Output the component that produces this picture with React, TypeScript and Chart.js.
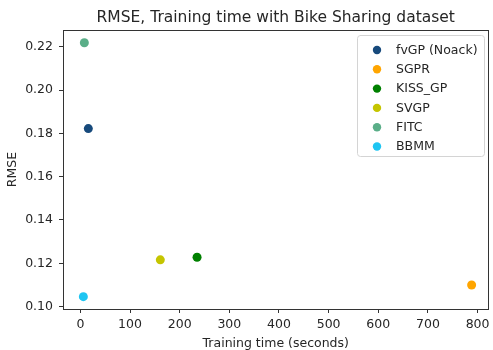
import { useEffect, useRef } from 'react';
import { Chart, registerables } from 'chart.js';

Chart.register(...registerables);

const methods = ['fvGP (Noack)', 'SGPR', 'KISS_GP', 'SVGP', 'FITC', 'BBMM'];
const trainingTimes = [16, 788, 235, 161, 8, 6];
const rmseValues = [0.1822, 0.11, 0.1228, 0.1216, 0.2218, 0.1046];
const pointColors = ['#174a7c', '#ffa500', '#008000', '#c5c500', '#5aae88', '#1ec5f2'];
const xTickValues = [0, 100, 200, 300, 400, 500, 600, 700, 800];
const yTickValues = [0.1, 0.12, 0.14, 0.16, 0.18, 0.2, 0.22];
const chartTitle = 'RMSE, Training time with Bike Sharing dataset';
const xAxisTitle = 'Training time (seconds)';
const yAxisTitle = 'RMSE';

const FONT = "'DejaVu Sans', sans-serif";
const TEXT = '#262626';
const AXIS = '#333333';

const frameAndLegend = {
  id: 'frameAndLegend',
  afterDraw(chart: any) {
    const { ctx, chartArea: a } = chart;
    ctx.save();
    ctx.strokeStyle = AXIS;
    ctx.lineWidth = 1;
    ctx.strokeRect(Math.round(a.left) + 0.5, Math.round(a.top) + 0.5, Math.round(a.width) - 1, Math.round(a.height));

    // legend
    ctx.font = `12.5px ${FONT}`;
    const rows = chart.data.datasets.map((d: any) => ({ label: d.label, color: d.backgroundColor }));
    const maxText = Math.max(...rows.map((r: any) => ctx.measureText(r.label).width));
    const rowH = 19.3;
    const w = 39 + maxText + 6;
    const h = 24 + rowH * (rows.length - 1) + 0.5;
    const right = Math.round(a.right - 5);
    const top = Math.round(a.top + 5);
    const left = Math.round(right - w);
    const r = 3;
    ctx.beginPath();
    ctx.moveTo(left + r, top + 0.5);
    ctx.arcTo(right + 0.5, top + 0.5, right + 0.5, top + h, r);
    ctx.arcTo(right + 0.5, top + h + 0.5, left, top + h + 0.5, r);
    ctx.arcTo(left + 0.5, top + h + 0.5, left + 0.5, top, r);
    ctx.arcTo(left + 0.5, top + 0.5, right, top + 0.5, r);
    ctx.closePath();
    ctx.fillStyle = 'rgba(255,255,255,0.8)';
    ctx.fill();
    ctx.strokeStyle = '#d4d4d4';
    ctx.stroke();
    ctx.textBaseline = 'middle';
    ctx.textAlign = 'left';
    rows.forEach((row: any, i: number) => {
      const cy = top + 15 + i * rowH;
      ctx.beginPath();
      ctx.arc(left + 20, cy, 4.2, 0, Math.PI * 2);
      ctx.fillStyle = row.color;
      ctx.fill();
      ctx.fillStyle = TEXT;
      ctx.fillText(row.label, left + 39, cy + 0.5);
    });
    ctx.restore();
  },
};

export default function App() {
  const ref = useRef<HTMLCanvasElement | null>(null);
  useEffect(() => {
    if (!ref.current) return;
    const chart = new Chart(ref.current, {
      type: 'scatter',
      data: {
        datasets: methods.map((m, i) => ({
          label: m,
          data: [{ x: trainingTimes[i], y: rmseValues[i] }],
          backgroundColor: pointColors[i],
          borderColor: pointColors[i],
          borderWidth: 0,
          pointRadius: 4.5,
          pointHoverRadius: 4.5,
        })),
      },
      options: {
        responsive: false,
        animation: false,
        events: [],
        layout: { padding: { top: 0, right: 1, left: 0, bottom: 0 } },
        plugins: {
          legend: { display: false },
          tooltip: { enabled: false },
          title: {
            display: true,
            text: chartTitle,
            fullSize: false,
            color: TEXT,
            font: { family: FONT, size: 15.5, weight: 'normal', lineHeight: 1.2 },
            padding: { top: 9, bottom: 2.4 },
          },
        },
        scales: {
          x: {
            type: 'linear',
            min: -35,
            max: 822,
            afterBuildTicks: (s: any) => {
              s.ticks = xTickValues.map((v) => ({ value: v }));
            },
            afterFit: (s: any) => {
              s.height = 41;
              s.paddingLeft = 0;
              s.paddingRight = 0;
            },
            ticks: {
              color: TEXT,
              font: { family: FONT, size: 12.5 },
              padding: 4,
              maxRotation: 0,
              autoSkip: false,
              callback: (v: any) => String(v),
            },
            grid: { drawOnChartArea: false, drawTicks: true, tickLength: 4, tickColor: AXIS },
            border: { display: false },
            title: {
              display: true,
              text: xAxisTitle,
              color: TEXT,
              font: { family: FONT, size: 12.5, lineHeight: 1 },
              padding: { top: 0, bottom: 0 },
            },
          },
          y: {
            type: 'linear',
            min: 0.0989,
            max: 0.2277,
            afterBuildTicks: (s: any) => {
              s.ticks = yTickValues.map((v) => ({ value: v }));
            },
            afterFit: (s: any) => {
              s.width = 63;
              s.paddingTop = 0;
              s.paddingBottom = 0;
            },
            ticks: {
              color: TEXT,
              font: { family: FONT, size: 12.5 },
              padding: 6,
              autoSkip: false,
              callback: (v: any) => Number(v).toFixed(2),
            },
            grid: { drawOnChartArea: false, drawTicks: true, tickLength: 4, tickColor: AXIS },
            border: { display: false },
            title: {
              display: true,
              text: yAxisTitle,
              color: TEXT,
              font: { family: FONT, size: 12.5, lineHeight: 1.2 },
              padding: { top: 5.5, bottom: 0 },
            },
          },
        },
      },
      plugins: [frameAndLegend],
    });
    return () => chart.destroy();
  }, []);
  return (
    <div style={{ position: 'fixed', left: 0, top: 0, width: 493, height: 350, background: '#fff' }}>
      <canvas ref={ref} width={493} height={350} style={{ display: 'block' }} />
    </div>
  );
}
